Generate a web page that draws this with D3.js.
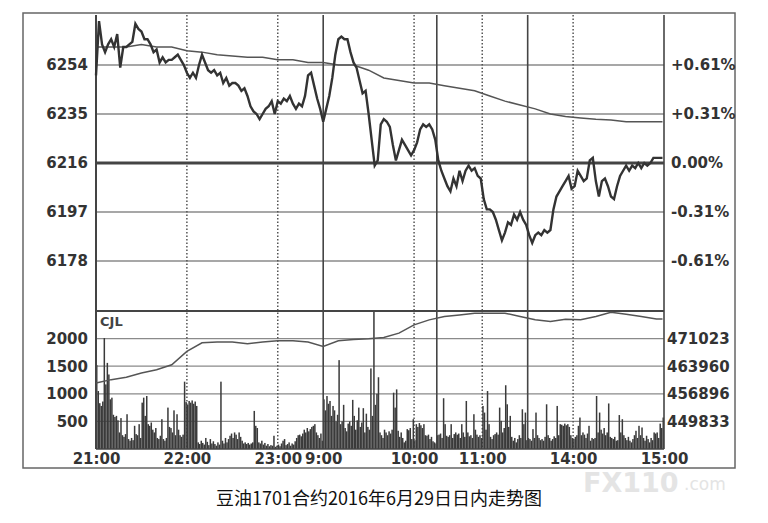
<!DOCTYPE html>
<html><head><meta charset="utf-8">
<script src="https://cdn.jsdelivr.net/npm/d3@7"></script>
<style>html,body{margin:0;padding:0;background:#fff;}svg{display:block;}</style>
</head><body>
<svg id="chart" width="768" height="523"></svg>
<script>
// ---------- DATA ----------
const sessions = [["21:00","23:30"],["9:00","10:15"],["10:30","11:30"],["13:30","15:00"]];
const tickLabels = ["21:00","22:00","23:00","9:00","10:00","11:00","14:00","15:00"];
const dottedTimes = ["22:00","23:00","10:00","11:00","14:00"];
const solidTimes = ["9:00","10:30","13:30","15:00"];

const priceTicks = [6254,6235,6216,6197,6178];
const pctLabels = ["+0.61%","+0.31%","0.00%","-0.31%","-0.61%"];
const volTicks = [500,1000,1500,2000];
const oiTicks = [449833,456896,463960,471023];
const baseClose = 6216;

// price, one value every 2 minutes of trading
const priceStep = 2;
const prices = [
6250,6271,6262,6259,6262,6264,6261,6266,6253,6261,
6261,6262,6263,6270,6268,6267,6264,6264,6262,6259,
6260,6255,6257,6255,6256,6256,6257,6258,6256,6254,
6251,6249,6251,6249,6254,6258,6255,6252,6251,6252,
6250,6251,6247,6249,6246,6247,6247,6246,6244,6245,
6242,6238,6236,6235,6233,6235,6237,6238,6240,6235,
6240,6239,6241,6240,6242,6239,6237,6239,6238,6242,
6250,6251,6246,6241,6237,6232,6237,6242,6249,6258,
6264,6265,6264,6264,6259,6255,6253,6248,6243,6244,
6235,6225,6215,6217,6231,6233,6232,6230,6223,6217,
6221,6225,6223,6221,6219,6221,6224,6229,6231,6230,
6231,6229,6225,6217,6213,6210,6207,6205,6210,6207,
6213,6209,6213,6215,6213,6214,6211,6210,6202,6198,
6198,6197,6194,6190,6186,6189,6193,6192,6196,6194,
6197,6194,6192,6188,6185,6188,6189,6188,6190,6189,
6190,6198,6203,6205,6207,6209,6211,6206,6207,6213,
6211,6209,6210,6217,6218,6209,6203,6209,6210,6207,
6203,6202,6207,6211,6213,6215,6213,6215,6214,6216,
6214,6216,6215,6216,6218,6218,6218,6218];

// average price & open interest, sampled at these trading minutes
const sampleMinutes = [0,10,20,30,40,50,60,70,80,90,100,110,120,130,140,150,160,170,180,190,
200,210,220,230,240,250,260,270,280,290,300,310,320,330,340,350,360,370,374];
const avgPrices = [6261,6261,6261,6262,6261,6261,6259.5,6259,6258,6257.5,6257,6257,6256,6256,6255,6255,
6254,6254,6252,6249,6248,6247,6247,6246,6245,6244,6242,6240,6238.5,6237,6235,6234,6233.5,6233,
6232.7,6232,6232,6232,6232];
const openInterest = [459680,460520,461130,462230,463070,464340,467760,469950,470130,470130,469700,
470130,470460,470460,470130,469030,470460,470800,470970,471330,472430,474550,475820,476680,477090,
477530,477530,477530,476680,475820,475410,476000,475820,476680,477780,477270,476680,476070,476070];

// volume (CJL), one value per trading minute
const volumes = [
1520,1050,830,780,860,2010,1170,1560,1350,900,
930,620,580,600,520,300,560,250,220,270,
630,180,150,200,160,420,270,250,450,200,
840,930,600,960,450,420,480,350,300,380,
200,180,240,540,180,150,200,750,400,380,
300,700,250,630,350,250,220,260,1220,850,
800,870,840,880,820,860,780,120,90,150,
110,80,200,130,70,180,100,140,90,60,
120,80,1220,150,100,200,120,180,240,280,
200,300,260,180,300,220,150,100,120,90,
110,80,100,120,690,420,380,120,100,150,
80,110,60,90,50,70,60,240,40,60,
80,50,100,150,180,70,90,120,60,100,
80,140,200,250,260,230,280,350,300,380,
320,360,400,420,450,300,250,200,280,150,
900,700,960,820,870,600,780,700,500,620,
1610,450,500,800,380,320,460,500,420,890,
600,350,520,750,400,480,740,300,640,400,
350,1460,600,2600,800,1000,1300,300,250,200,
350,300,250,320,280,350,1020,750,1080,330,
220,300,200,120,150,360,340,380,180,540,
160,450,400,470,430,380,450,250,240,260,
180,220,140,120,100,250,260,280,200,920,
450,240,220,250,450,200,270,300,260,280,
200,450,300,220,870,300,230,250,200,630,
350,260,220,250,200,780,660,350,1050,450,
220,180,250,270,300,260,750,510,300,380,
1155,810,400,600,220,150,200,120,180,250,
200,720,450,660,160,200,180,150,360,200,
660,250,200,160,180,150,220,810,250,200,
150,180,230,200,780,250,450,440,420,460,
430,450,400,250,200,180,220,250,420,570,
250,300,260,200,280,420,150,200,180,200,
960,300,660,350,280,380,250,300,825,220,
200,180,220,150,160,615,300,540,250,200,
160,220,150,120,180,250,330,200,420,250,
390,200,150,240,180,120,200,160,300,280,
300,200,460,380,570];

const caption = "豆油1701合约2016年6月29日日内走势图";

// ---------- HELPERS ----------
function clockMin(t){const [h,m]=t.split(":").map(Number);return h*60+m;}
function toMinute(t){
  const c = clockMin(t); let acc = 0;
  for(const [a,b] of sessions){
    const A=clockMin(a),B=clockMin(b);
    if(c>=A && c<=B) return acc + c - A;
    acc += B-A;
  }
  return acc;
}
const totalMin = sessions.reduce((s,[a,b])=>s+clockMin(b)-clockMin(a),0);

// ---------- SCALES ----------
const svg = d3.select("#chart");
const L=96,R=664,PT=15,PB=311,VB=449;
const x = d3.scaleLinear().domain([0,totalMin]).range([L,R]);
const span = 57.4;
const yP = d3.scaleLinear().domain([baseClose-span, baseClose+span]).range([PB,PT]);
const yV = d3.scaleLinear().domain([0,2500]).range([VB,PB]).clamp(true);
const yOI = d3.scaleLinear().domain([442770,478086]).range([VB,PB]);

const dark="#454545", grid="#8a8a8a";

svg.append("rect").attr("width",768).attr("height",523).attr("fill","#fff");

// watermark (drawn faintly, below the frame labels)
svg.append("text").attr("x",583).attr("y",492).text("FX110")
  .attr("font-family","'DejaVu Sans', sans-serif").attr("font-size",27).attr("font-weight","bold")
  .attr("fill","#e4e4e4");
svg.append("text").attr("x",684).attr("y",490).text(".com")
  .attr("font-family","'DejaVu Sans', sans-serif").attr("font-size",17)
  .attr("fill","#e4e4e4");

// outer frame
svg.append("rect").attr("x",23).attr("y",13).attr("width",712).attr("height",455)
  .attr("fill","none").attr("stroke","#666").attr("stroke-width",1.5);

// horizontal grids
svg.append("g").selectAll("line").data(priceTicks.filter(d=>d!==baseClose)).join("line")
  .attr("x1",L).attr("x2",R).attr("y1",d=>yP(d)).attr("y2",d=>yP(d))
  .attr("stroke",grid).attr("stroke-width",1.3);
svg.append("g").selectAll("line").data(volTicks).join("line")
  .attr("x1",L).attr("x2",R).attr("y1",d=>yV(d)).attr("y2",d=>yV(d))
  .attr("stroke",grid).attr("stroke-width",1.3);

// vertical lines
svg.append("g").selectAll("line").data(dottedTimes).join("line")
  .attr("x1",d=>x(toMinute(d))).attr("x2",d=>x(toMinute(d)))
  .attr("y1",PT).attr("y2",VB).attr("stroke","#555").attr("stroke-width",1.5)
  .attr("stroke-dasharray","1.5,2");

// volume bars
svg.append("g").selectAll("rect").data(volumes).join("rect")
  .attr("x",(d,i)=>x(i)).attr("width",1.5)
  .attr("y",d=>yV(d)).attr("height",d=>VB-yV(d)).attr("fill","#3a3a3a");

svg.append("g").selectAll("line").data(solidTimes).join("line")
  .attr("x1",d=>x(toMinute(d))).attr("x2",d=>x(toMinute(d)))
  .attr("y1",PT).attr("y2",VB).attr("stroke",dark).attr("stroke-width",1.6);

// zero line, separators
svg.append("line").attr("x1",L).attr("x2",R).attr("y1",yP(baseClose)).attr("y2",yP(baseClose))
  .attr("stroke","#444").attr("stroke-width",3);
svg.append("line").attr("x1",L).attr("x2",R).attr("y1",PB).attr("y2",PB)
  .attr("stroke",dark).attr("stroke-width",2);
svg.append("line").attr("x1",L).attr("x2",R).attr("y1",VB).attr("y2",VB)
  .attr("stroke",dark).attr("stroke-width",1.6);
svg.append("line").attr("x1",L).attr("x2",L).attr("y1",PT).attr("y2",VB)
  .attr("stroke","#444").attr("stroke-width",2);

// lines
const avgLine = d3.line().x((d,i)=>x(sampleMinutes[i])).y(d=>yP(d));
svg.append("path").datum(avgPrices).attr("d",avgLine).attr("fill","none")
  .attr("stroke","#555").attr("stroke-width",1.5);
const oiLine = d3.line().x((d,i)=>x(sampleMinutes[i])).y(d=>yOI(d));
svg.append("path").datum(openInterest).attr("d",oiLine).attr("fill","none")
  .attr("stroke","#555").attr("stroke-width",1.5);
const pLine = d3.line().x((d,i)=>x(i*priceStep)).y(d=>yP(d)).curve(d3.curveLinear);
svg.append("path").datum(prices).attr("d",pLine).attr("fill","none")
  .attr("stroke","#333").attr("stroke-width",2.4).attr("stroke-linejoin","miter");

// axes (labels)
function styleAxis(g){
  g.select(".domain").remove();
  g.selectAll("line").remove();
  g.attr("font-family","'DejaVu Sans', sans-serif").attr("font-size",15).attr("font-weight","bold");
  g.selectAll("text").attr("fill","#333");
}
svg.append("g").attr("transform",`translate(${L},0)`)
  .call(d3.axisLeft(yP).tickValues(priceTicks).tickSize(0).tickPadding(8).tickFormat(d3.format("d"))).call(styleAxis);
svg.append("g").attr("transform",`translate(${R},0)`)
  .call(d3.axisRight(yP).tickValues(priceTicks).tickSize(0).tickPadding(7)
    .tickFormat((d,i)=>pctLabels[i])).call(styleAxis);
svg.append("g").attr("transform",`translate(${L},0)`)
  .call(d3.axisLeft(yV).tickValues(volTicks).tickSize(0).tickPadding(8).tickFormat(d3.format("d"))).call(styleAxis);
svg.append("g").attr("transform",`translate(${R},0)`)
  .call(d3.axisRight(yOI).tickValues(oiTicks).tickSize(0).tickPadding(3).tickFormat(d3.format("d"))).call(styleAxis);
svg.append("g").attr("transform",`translate(0,${VB})`)
  .call(d3.axisBottom(x).tickValues(tickLabels.map(toMinute)).tickSize(0).tickPadding(4)
    .tickFormat((d,i)=>tickLabels[i])).call(styleAxis);

svg.append("text").attr("x",100).attr("y",326).text("CJL")
  .attr("font-family","'DejaVu Sans', sans-serif").attr("font-size",13).attr("font-weight","bold").attr("fill","#444");

// caption
svg.append("text").attr("x",379).attr("y",505).attr("text-anchor","middle").text(caption)
  .attr("font-family","'Noto Sans CJK SC', sans-serif").attr("font-size",18).attr("fill","#111");
</script>
</body></html>
